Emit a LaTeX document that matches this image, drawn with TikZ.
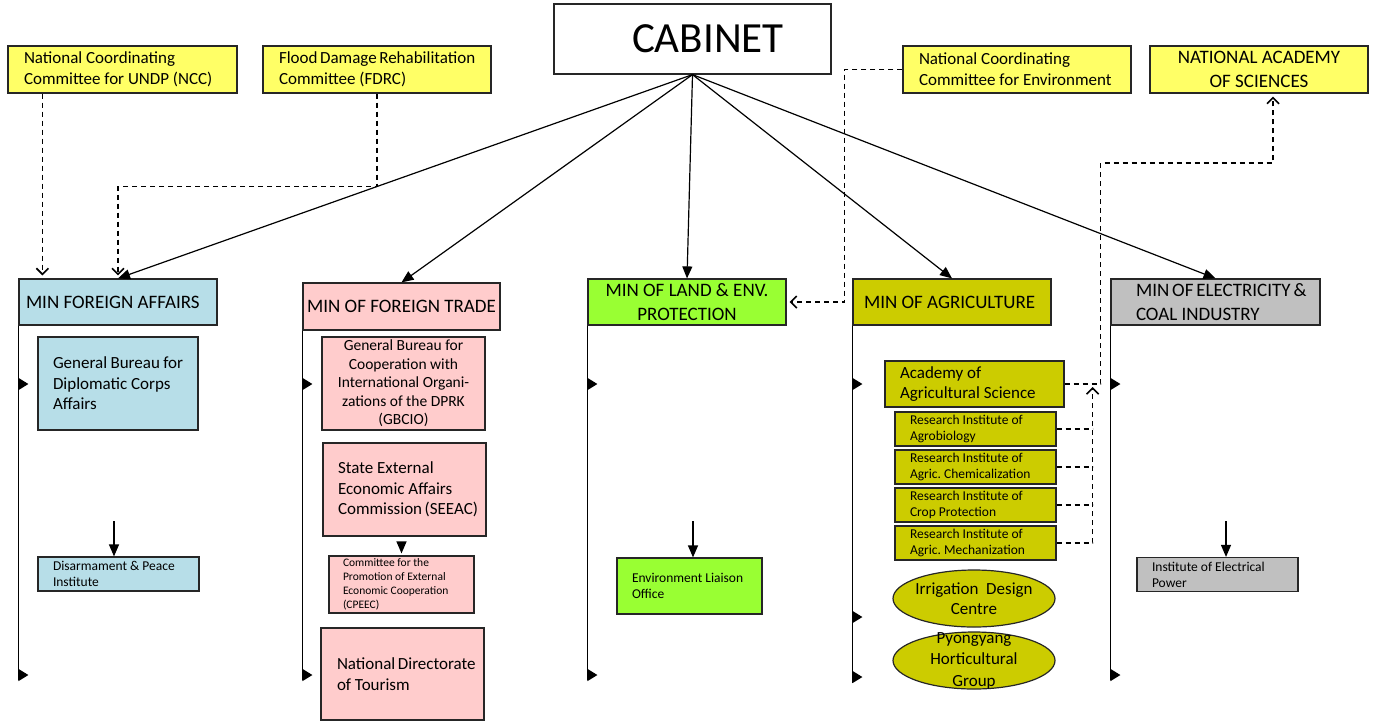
\documentclass[tikz,border=0pt]{standalone}
\usepackage{fontspec}
\setmainfont{Carlito}
\usetikzlibrary{arrows.meta,shapes.geometric}

\definecolor{cmtYellow}{RGB}{255,255,102}
\definecolor{faBlue}{RGB}{183,222,232}
\definecolor{ftPink}{RGB}{255,204,204}
\definecolor{lepGreen}{RGB}{153,255,51}
\definecolor{agOlive}{RGB}{204,204,0}
\definecolor{ecGray}{RGB}{192,192,192}

\tikzstyle{unit}=[rectangle,draw=black!85,line width=1.2pt,inner ysep=1pt,align=flush left,
    execute at begin node={\hyphenpenalty=10000\exhyphenpenalty=10000}]
\tikzstyle{committee}=[unit,fill=cmtYellow,font=\fontsize{17}{21}\selectfont]
\tikzstyle{ministry}=[unit,font=\fontsize{19}{23.5}\selectfont]
\tikzstyle{office}=[unit,font=\fontsize{17}{20.5}\selectfont]
\tikzstyle{minor}=[unit,font=\fontsize{13.5}{16}\selectfont]
\tikzstyle{institute}=[minor,fill=agOlive,text width=131pt,inner xsep=15pt,minimum height=34pt]
\tikzstyle{oval}=[ellipse,draw=black!85,line width=1.2pt,fill=agOlive,minimum width=162pt,minimum height=57pt,inner sep=0pt]
\tikzstyle{stub}=[-{Triangle[length=10pt,width=12pt]}]
\tikzstyle{dashlink}=[dash pattern=on 5pt off 4pt,line width=1.6pt]
\tikzstyle{dasharrow}=[dashlink,-{Straight Barb[length=6pt,width=12pt]},shorten >=3pt]

\begin{document}
\begin{tikzpicture}[x=1pt,y=-1pt,line width=1.2pt,>={Triangle[length=12pt,width=10pt]}]
    \useasboundingbox (0,0) rectangle (1388,721);

    % top row
    \node[unit,text width=121pt,inner xsep=78pt,minimum height=70pt,
        font=\fontsize{43}{50}\selectfont] (cabinet) at (692.5,39) {CABINET};
    \node[committee,text width=197pt,inner xsep=16pt,minimum height=47pt] (ncc) at (122.5,69.5)
        {National Coordinating\\Committee~for~UNDP~(NCC)};
    \node[committee,text width=196pt,inner xsep=16pt,minimum height=47pt] (fdrc) at (377,69.5)
        {Flood~Damage~Rehabilitation\\Committee (FDRC)};
    \node[committee,text width=196pt,inner xsep=16pt,minimum height=47pt] (nce) at (1017,69.5)
        {National Coordinating\\Committee~for~Environment};
    \node[committee,align=center,minimum width=218pt,minimum height=47pt,
        font=\fontsize{19}{24}\selectfont] (nas) at (1259,69.5) {NATIONAL ACADEMY\\OF SCIENCES};

    % ministries
    \node[ministry,fill=faBlue,text width=184pt,inner xsep=7pt,minimum height=46pt] (mfa) at (118,302)
        {MIN FOREIGN AFFAIRS};
    \node[ministry,fill=ftPink,align=center,inner xsep=2pt,minimum width=197pt,minimum height=47pt]
        (mft) at (401.5,306.5) {MIN OF FOREIGN TRADE};
    \node[ministry,fill=lepGreen,align=center,minimum width=198pt,minimum height=46pt] (mlep) at (687,302)
        {MIN OF LAND \& ENV.\\PROTECTION};
    \node[ministry,fill=agOlive,text width=176pt,inner xsep=11pt,minimum height=46pt] (mag) at (952,302)
        {MIN OF AGRICULTURE};
    \node[ministry,fill=ecGray,text width=159pt,inner xsep=25pt,minimum height=46pt] (mec) at (1215.5,302)
        {MIN~OF~ELECTRICITY~\&\\COAL INDUSTRY};

    % foreign affairs
    \node[office,fill=faBlue,text width=130pt,inner xsep=15pt,minimum height=93pt] (gbdca) at (118,383.5)
        {General~Bureau~for\\Diplomatic Corps\\Affairs};
    \node[minor,fill=faBlue,text width=131pt,inner xsep=15pt,minimum height=34pt] (dpi) at (118.5,574)
        {Disarmament~\&~Peace\\Institute};

    % foreign trade
    \node[unit,fill=ftPink,align=center,inner xsep=2pt,minimum width=163pt,minimum height=93pt,
        font=\fontsize{15.5}{18.5}\selectfont] (gbcio) at (403.5,383.5)
        {General Bureau for\\Cooperation with\\International Organi-\\zations of the DPRK\\(GBCIO)};
    \node[office,fill=ftPink,text width=133pt,inner xsep=15pt,minimum height=93pt] (seeac) at (404.5,489.5)
        {State External\\Economic Affairs\\Commission~(SEEAC)};
    \node[unit,fill=ftPink,text width=117pt,inner xsep=14pt,minimum height=57pt,
        font=\fontsize{11.5}{14}\selectfont] (cpeec) at (401.5,584.5)
        {Committee for the\\Promotion of External\\Economic~Cooperation\\(CPEEC)};
    \node[office,fill=ftPink,text width=131pt,inner xsep=16pt,minimum height=92pt] (ndt) at (402.5,674)
        {National~Directorate\\of Tourism};

    % land and environment
    \node[minor,fill=lepGreen,text width=115pt,inner xsep=15pt,minimum height=56pt] (elo) at (689.5,586)
        {Environment~Liaison\\Office};

    % agriculture
    \node[office,fill=agOlive,text width=149pt,inner xsep=15pt,minimum height=46pt] (aas) at (974.5,384)
        {Academy of\\Agricultural~Science};
    \node[institute] (ria) at (975.5,429) {Research~Institute~of\\Agrobiology};
    \node[institute] (riac) at (975.5,467) {Research~Institute~of\\Agric.~Chemicalization};
    \node[institute] (ricp) at (975.5,505) {Research~Institute~of\\Crop Protection};
    \node[institute] (riam) at (975.5,543) {Research~Institute~of\\Agric.~Mechanization};
    \node[oval,label={[align=center,font=\fontsize{17}{20.5}\selectfont]center:{Irrigation\ \ Design\\Centre}}]
        (idc) at (974,598.5) {};
    \node[oval,label={[align=center,font=\fontsize{17}{21.5}\selectfont]center:{Pyongyang\\Horticultural\\Group}}]
        (phg) at (974,660.5) {};

    % electricity
    \node[minor,fill=ecGray,text width=131pt,inner xsep=15pt,minimum height=34pt] (eip) at (1217.5,574.5)
        {Institute~of~Electrical\\Power};

    % branch levels
    \coordinate (lvla) at (0,384);
    \coordinate (lvlb) at (0,675);
    \coordinate (base) at (0,680);
    \coordinate (agmid) at (0,617);
    \coordinate (agbot) at (0,677);
    \coordinate (agbase) at (0,683);

    \foreach \m in {mfa,mft,mlep,mag,mec}
        \draw[->] (cabinet.south) -- (\m.north);

    \foreach \m in {mfa,mft,mlep,mec}{
        \draw (\m.south west) -- (\m.south west |- base);
        \draw[stub] (\m.south west |- lvla) -- ++(10,0);
        \draw[stub] (\m.south west |- lvlb) -- ++(10,0);
    }
    \draw (mag.south west) -- (mag.south west |- agbase);
    \draw[stub] (mag.south west |- lvla) -- ++(10,0);
    \draw[stub] (mag.south west |- agmid) -- ++(10,0);
    \draw[stub] (mag.south west |- agbot) -- ++(10,0);

    % short arrows into the lower offices
    \coordinate (dpi-in) at (114,521);
    \coordinate (elo-in) at (693,521);
    \coordinate (eip-in) at (1226,521);
    \draw[->] (dpi-in) -- (dpi-in |- dpi.north);
    \draw[->] (elo-in) -- (elo-in |- elo.north);
    \draw[->] (eip-in) -- (eip-in |- eip.north);
    \draw[->,shorten <=7pt,shorten >=2pt] (cpeec.north |- seeac.south) -- (cpeec.north);

    % dashed links
    \coordinate (ncc-out) at ([xshift=35pt]ncc.south west);
    \draw[dasharrow] (ncc-out) -- (ncc-out |- mfa.north);
    \draw[dasharrow] (fdrc.south) -- ++(0,93) -| (mfa.north);
    \draw[dasharrow] (nce.west) -- ++(-58,0) |- (mlep.east);
    \draw[dasharrow] (aas.east) -- ++(36,0) -- ++(0,-221) -| ([xshift=14pt]nas.south);
    \coordinate (ri-up) at ([xshift=28pt]aas.east);
    \foreach \r in {ria,riac,ricp}
        \draw[dashlink] (\r.east) -- (\r.east -| ri-up);
    \draw[dasharrow] (riam.east) -| (ri-up);
\end{tikzpicture}
\end{document}
